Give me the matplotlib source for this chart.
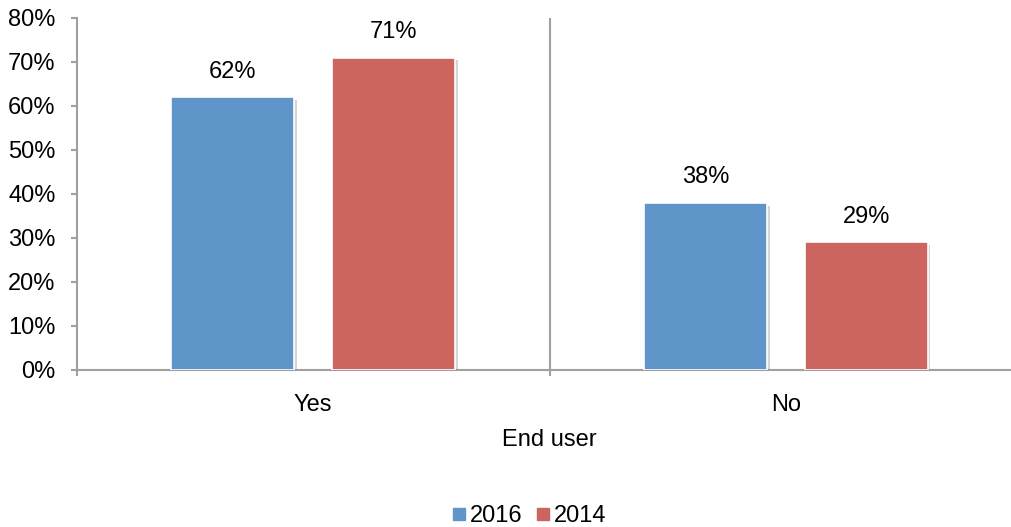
import matplotlib
matplotlib.use("Agg")
import matplotlib.pyplot as plt
import matplotlib.patheffects as pe
from matplotlib.lines import Line2D
import numpy as np

plt.rcParams['font.family'] = ['Liberation Sans', 'DejaVu Sans']

categories = ["Yes", "No"]
series_names = ["2016", "2014"]
values_2016 = [0.62, 0.38]
values_2014 = [0.71, 0.29]
y_ticks = [0, 0.1, 0.2, 0.3, 0.4, 0.5, 0.6, 0.7, 0.8]
y_tick_labels = ["0%", "10%", "20%", "30%", "40%", "50%", "60%", "70%", "80%"]
axis_title = "End user"

colors = ["#5F95C9", "#CC655F"]
axis_gray = "#A0A0A0"

W, H = 1011, 527
fig = plt.figure(figsize=(W / 100, H / 100), dpi=100)
ax = fig.add_axes([77 / W, (H - 370) / H, 945 / W, 352 / H])

x = np.arange(len(categories))
offset = 0.17
width = 0.26
shadow = [pe.SimplePatchShadow(offset=(2, -2), shadow_rgbFace="#888888", alpha=0.35), pe.Normal()]

for vals, dx, col in zip([values_2016, values_2014], [-offset, offset], colors):
    bars = ax.bar(x + dx, vals, width, color=col, edgecolor="white", linewidth=1.2, zorder=3)
    for b, v in zip(bars, vals):
        b.set_path_effects(shadow)
        ax.annotate(f"{v * 100:.0f}%", (b.get_x() + b.get_width() / 2, v),
                    xytext=(0, 18.5), textcoords="offset points",
                    ha="center", va="center", fontsize=17, color="black")

ax.set_xlim(-0.5, 1.5)
ax.set_ylim(0, 0.8)
ax.set_yticks(y_ticks)
ax.set_yticklabels(y_tick_labels, fontsize=17)
ax.tick_params(axis="y", length=4.5, width=1.5, color=axis_gray, pad=11)

ax.set_xticks(x)
ax.set_xticklabels(categories, fontsize=17)
ax.tick_params(axis="x", which="major", length=0, pad=17)
ax.set_xticks([-0.5, 0.5, 1.5], minor=True)
ax.tick_params(axis="x", which="minor", length=4.5, width=1.5, color=axis_gray)

# category divider
ax.axvline(0.5, color=axis_gray, linewidth=1.5, zorder=1)

for s in ["top", "right"]:
    ax.spines[s].set_visible(False)
for s in ["left", "bottom"]:
    ax.spines[s].set_color(axis_gray)
    ax.spines[s].set_linewidth(1.5)

fig.text(549.5 / W, 1 - 440 / H, axis_title, ha="center", va="center", fontsize=17)

handles = [Line2D([], [], marker="s", linestyle="none", markersize=8,
                  markerfacecolor=c, markeredgecolor=c) for c in colors]
fig.legend(handles, series_names, loc="center", bbox_to_anchor=(528 / W, 1 - 516 / H),
           ncol=2, frameon=False, fontsize=17, handletextpad=0.05, columnspacing=0.5,
           handlelength=0.8, borderpad=0)

fig.savefig("out.png", dpi=100)
